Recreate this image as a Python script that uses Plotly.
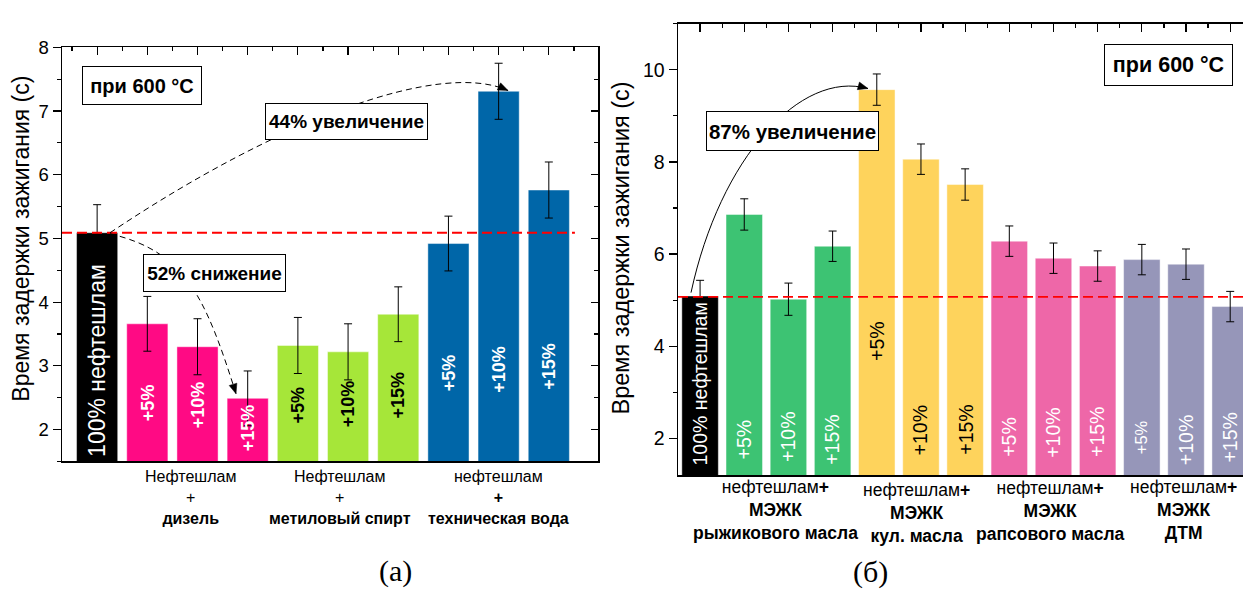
import math
import plotly.graph_objects as go

W, H = 1243, 589
FONT = "Liberation Sans, Arial, sans-serif"
SERIF = "Liberation Serif, Times New Roman, serif"

# ---------------- data: panel (а) ----------------
a_labels = ["100% нефтешлам", "+5%", "+10%", "+15%", "+5%", "+10%", "+15%", "+5%", "+10%", "+15%"]
a_values = [5.09, 3.66, 3.30, 2.49, 3.32, 3.22, 3.81, 4.92, 7.31, 5.76]
a_errors = [0.44, 0.43, 0.44, 0.43, 0.44, 0.44, 0.43, 0.43, 0.44, 0.44]
a_groups = ["Нефтешлам<br>+<br><b>дизель</b>",
            "Нефтешлам<br>+<br><b>метиловый спирт</b>",
            "нефтешлам<br><b>+</b><br><b>техническая вода</b>"]
a_ref = 5.09

# ---------------- data: panel (б) ----------------
b_labels = ["100% нефтешлам", "+5%", "+10%", "+15%", "+5%", "+10%", "+15%",
            "+5%", "+10%", "+15%", "+5%", "+10%", "+15%"]
b_values = [5.09, 6.86, 5.02, 6.17, 9.57, 8.06, 7.51, 6.28, 5.91, 5.74, 5.88, 5.78, 4.86]
b_errors = [0.34, 0.34, 0.35, 0.33, 0.34, 0.33, 0.34, 0.33, 0.33, 0.33, 0.33, 0.33, 0.33]
b_groups = ["нефтешлам<b>+</b><br><b>МЭЖК</b><br><b>рыжикового масла</b>",
            "нефтешлам<b>+</b><br><b>МЭЖК</b><br><b>кул. масла</b>",
            "нефтешлам<b>+</b><br><b>МЭЖК</b><br><b>рапсового масла</b>",
            "нефтешлам<b>+</b><br><b>МЭЖК</b><br><b>ДТМ</b>"]
b_ref = 5.07

# ---------------- styles ----------------
a_colors = ["#000000"] + ["#FF0A84"] * 3 + ["#A6E639"] * 3 + ["#0066A8"] * 3
a_txtcol = ["white"] * 4 + ["black"] * 3 + ["white"] * 3
a_txty = [3.08, 2.42, 2.39, 2.03, 2.39, 2.40, 2.54, 2.89, 2.95, 3.00]
a_txtsize = [23] + [18] * 9
a_bold = [False] + [True] * 9
a_grp_x = [1.87, 4.84, 7.99]

b_colors = ["#000000"] + ["#3DC373"] * 3 + ["#FED35C"] * 3 + ["#EE67A8"] * 3 + ["#9696B9"] * 3
b_txtcol = ["white"] * 4 + ["black"] * 3 + ["white"] * 6
b_txty = [3.17, 1.98, 2.04, 1.96, 4.11, 2.17, 2.19, 2.04, 2.13, 2.13, 2.02, 1.96, 2.02]
b_txtsize = [19.5] * 10 + [16.5, 19.5, 19.5]
b_grp_x = [1.71, 4.89, 7.93, 10.95]
b_grp_y = [509, 512, 510, 508]

# geometry (pixels)
A_PX, A_PY, A_XR, A_YR = (62, 598), (37, 459), [-0.7, 9.98], [1.5, 8]
B_PX, B_PY, B_XR, B_YR = (678, 1243), (13, 473), [-0.5, 12.29], [1.2, 11]


def dom_x(p):
    return [p[0] / W, p[1] / W]


def dom_y(p):
    return [1 - p[1] / H, 1 - p[0] / H]


def pp(x, y):
    return x / W, 1 - y / H


fig = go.Figure()
fig.add_trace(go.Bar(
    x=list(range(len(a_values))), y=a_values, width=0.82,
    marker=dict(color=a_colors, line=dict(color="rgba(255,255,255,0.45)", width=1)),
    error_y=dict(type="data", array=a_errors, color="black", thickness=1, width=4),
    xaxis="x", yaxis="y", showlegend=False, hoverinfo="skip"))
fig.add_trace(go.Bar(
    x=list(range(len(b_values))), y=b_values, width=0.826,
    marker=dict(color=b_colors, line=dict(color="rgba(255,255,255,0.45)", width=1)),
    error_y=dict(type="data", array=b_errors, color="black", thickness=1, width=4),
    xaxis="x2", yaxis="y2", showlegend=False, hoverinfo="skip"))
# dummy traces so mirror axes are drawn
for xa, ya in [("x3", "y3"), ("x4", "y2")]:
    fig.add_trace(go.Scatter(x=[None], y=[None], xaxis=xa, yaxis=ya,
                             showlegend=False, hoverinfo="skip"))

base = dict(showgrid=False, zeroline=False, linecolor="black", linewidth=1.5,
            tickcolor="black", tickwidth=1.2, fixedrange=True,
            tickfont=dict(family=FONT, size=18.5, color="black"))

layout_axes = dict(
    xaxis=dict(base, domain=dom_x(A_PX), range=A_XR, anchor="y", showline=True,
               ticks="", showticklabels=False),
    yaxis=dict(base, domain=dom_y(A_PY), range=A_YR, anchor="x", showline=True,
               ticks="outside", tickmode="linear", tick0=2, dtick=1, ticklen=8,
               minor=dict(ticks="outside", ticklen=4, dtick=0.5, tick0=0,
                          tickcolor="black", tickwidth=1.2)),
    xaxis3=dict(base, overlaying="x", side="top", anchor="y", range=A_XR, showline=True,
                ticks="inside", tickmode="linear", tick0=0, dtick=1, ticklen=8,
                showticklabels=False,
                minor=dict(ticks="inside", ticklen=4, dtick=0.5, tick0=0,
                           tickcolor="black", tickwidth=1.2)),
    yaxis3=dict(base, overlaying="y", side="right", anchor="x", range=A_YR, showline=True,
                ticks="inside", tickmode="linear", tick0=2, dtick=1, ticklen=7,
                showticklabels=False,
                minor=dict(ticks="inside", ticklen=4, dtick=0.5, tick0=0,
                           tickcolor="black", tickwidth=1.2)),
    xaxis2=dict(base, domain=dom_x(B_PX), range=B_XR, anchor="y2", showline=True,
                ticks="", showticklabels=False),
    yaxis2=dict(base, domain=dom_y(B_PY), range=B_YR, anchor="x2", showline=True,
                ticks="outside", tickmode="linear", tick0=2, dtick=2, ticklen=8,
                tickfont=dict(family=FONT, size=19.5, color="black"),
                minor=dict(ticks="outside", ticklen=4, dtick=1, tick0=0,
                           tickcolor="black", tickwidth=1.2)),
    xaxis4=dict(base, overlaying="x2", side="top", anchor="y2", range=B_XR, showline=True,
                ticks="inside", tickmode="linear", tick0=0, dtick=1, ticklen=8,
                showticklabels=False,
                minor=dict(ticks="inside", ticklen=4, dtick=0.5, tick0=0,
                           tickcolor="black", tickwidth=1.2)),
)

ann = []
# bar labels
for i, t in enumerate(a_labels):
    ann.append(dict(x=i, y=a_txty[i], xref="x", yref="y", showarrow=False, textangle=-90,
                    xanchor="center", yanchor="middle",
                    text=f"<b>{t}</b>" if a_bold[i] else t,
                    font=dict(family=FONT, size=a_txtsize[i], color=a_txtcol[i])))
for i, t in enumerate(b_labels):
    ann.append(dict(x=i, y=b_txty[i], xref="x2", yref="y2", showarrow=False, textangle=-90,
                    xanchor="center", yanchor="middle",
                    text=t, font=dict(family=FONT, size=b_txtsize[i], color=b_txtcol[i])))
# group labels
for gx, g in zip(a_grp_x, a_groups):
    ann.append(dict(x=gx, y=pp(0, 496)[1], xref="x", yref="paper", showarrow=False,
                    text=g, align="center", xanchor="center", yanchor="middle",
                    font=dict(family=FONT, size=16, color="black")))
for gx, gy, g in zip(b_grp_x, b_grp_y, b_groups):
    ann.append(dict(x=gx, y=pp(0, gy)[1], xref="x2", yref="paper", showarrow=False,
                    text=g, align="center", xanchor="center", yanchor="middle",
                    font=dict(family=FONT, size=17.5, color="black")))


def box(text, cx, cy, w, h, size):
    x, y = pp(cx, cy)
    return dict(text=f"<b>{text}</b>", x=x, y=y, xref="paper", yref="paper",
                showarrow=False, width=w - 2, height=h - 2, borderpad=0,
                bordercolor="black", borderwidth=1, bgcolor="white",
                xanchor="center", yanchor="middle",
                font=dict(family=FONT, size=size, color="black"))


ann += [box("при 600 °C", 142, 75.5, 120, 39, 20),
        box("44% увеличение", 346.5, 112.5, 163, 37, 19),
        box("52% снижение", 214.5, 267, 143, 38, 19),
        box("при 600 °C", 1168.4, 55.5, 129, 42, 21.5),
        box("87% увеличение", 792.7, 122.7, 173, 40, 20.5)]

# axis titles and panel letters
for cx, cy, size in [(21, 232, 23), (621, 242, 23.5)]:
    x, y = pp(cx, cy)
    ann.append(dict(x=x, y=y, xref="paper", yref="paper", showarrow=False, textangle=-90,
                    xanchor="center", yanchor="middle",
                    text="Время задержки зажигания (с)",
                    font=dict(family=FONT, size=size, color="black")))
for cx, cy, t in [(395, 571, "(а)"), (870, 572, "(б)")]:
    x, y = pp(cx, cy)
    ann.append(dict(x=x, y=y, xref="paper", yref="paper", showarrow=False, text=t,
                    xanchor="center", yanchor="middle",
                    font=dict(family=SERIF, size=30, color="black")))

shapes = []
# reference lines
shapes.append(dict(type="line", xref="x", yref="y", x0=A_XR[0], x1=9.52, y0=a_ref, y1=a_ref,
                   line=dict(color="red", width=2, dash="10px,5px"), layer="above"))
shapes.append(dict(type="line", xref="x2", yref="y2", x0=B_XR[0], x1=B_XR[1], y0=b_ref, y1=b_ref,
                   line=dict(color="red", width=1.6, dash="10px,5px"), layer="above"))


def bez(pts, dash):
    q = [pp(*p) for p in pts]
    path = "M {},{} C {},{} {},{} {},{}".format(*[c for pt in q for c in pt])
    return dict(type="path", xref="paper", yref="paper", path=path,
                line=dict(color="black", width=1, dash=dash), layer="above")


def head(p2, p3, L=10, hw=4):
    dx, dy = p3[0] - p2[0], p3[1] - p2[1]
    n = math.hypot(dx, dy)
    ux, uy = dx / n, dy / n
    bx, by = p3[0] - L * ux, p3[1] - L * uy
    c1 = (bx - hw * uy, by + hw * ux)
    c2 = (bx + hw * uy, by - hw * ux)
    q = [pp(*p) for p in (p3, c1, c2)]
    path = "M {},{} L {},{} L {},{} Z".format(*[c for pt in q for c in pt])
    return dict(type="path", xref="paper", yref="paper", path=path,
                fillcolor="black", line=dict(color="black", width=0.5), layer="above")


curves = [
    ([(110, 226), (280, 110), (440, 50), (508, 81)], "6px,4px"),
    ([(110, 227), (185, 245), (205, 290), (236, 390)], "6px,4px"),
    ([(691, 287), (720, 150), (800, 60), (868, 79)], "solid"),
]
for pts, dash in curves:
    shapes.append(bez(pts, dash))
    shapes.append(head(pts[2], pts[3]))

fig.update_layout(
    width=W, height=H, autosize=False,
    margin=dict(l=0, r=0, t=0, b=0),
    paper_bgcolor="white", plot_bgcolor="white",
    bargap=0, showlegend=False,
    annotations=ann, shapes=shapes,
    font=dict(family=FONT, color="black"),
    **layout_axes)

fig.write_html(
    "out.html",
    config={"displayModeBar": False, "staticPlot": True},
    post_script="document.body.style.margin='0';document.body.style.padding='0';"
                "document.body.style.overflow='hidden';",
)
